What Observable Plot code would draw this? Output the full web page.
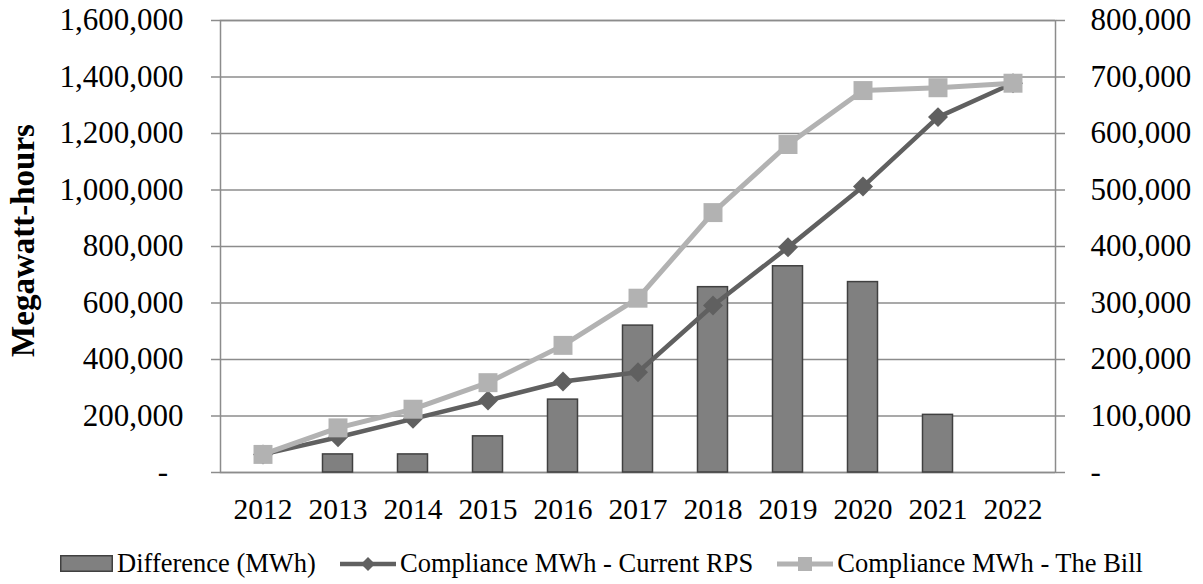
<!DOCTYPE html>
<html>
<head>
<meta charset="utf-8">
<script src="https://cdn.jsdelivr.net/npm/d3@7"></script>
<script src="https://cdn.jsdelivr.net/npm/@observablehq/plot@0.6"></script>
<style>
  body { margin: 0; background: #fff; font-family: "Liberation Serif", "Times New Roman", serif; }
  #legend { display: flex; justify-content: center; align-items: center; font-size: 26.5px; color: #000; margin-top: 14px; }
  #legend .item { display: flex; align-items: center; }
  #legend .item span { margin-left: 4px; }
  #legend .gap { width: 24px; }
</style>
</head>
<body>
<div id="chart"></div>
<div id="legend">
  <div class="item"><svg width="53" height="17"><rect x="0.75" y="0.75" width="51.5" height="15.5" fill="#808080" stroke="#404040" stroke-width="1.5"/></svg><span>Difference (MWh)</span></div>
  <div class="gap"></div>
  <div class="item"><svg width="56" height="20"><line x1="0" x2="56" y1="10" y2="10" stroke="#606060" stroke-width="4.5"/><path d="M28,3 L35,10 L28,17 L21,10 Z" fill="#606060"/></svg><span>Compliance MWh - Current RPS</span></div>
  <div class="gap"></div>
  <div class="item"><svg width="56" height="20"><line x1="0" x2="56" y1="10" y2="10" stroke="#b2b2b2" stroke-width="5"/><rect x="21" y="3" width="14" height="14" fill="#b2b2b2"/></svg><span>Compliance MWh - The Bill</span></div>
</div>
<script>
// ---- data ----
const years = ["2012","2013","2014","2015","2016","2017","2018","2019","2020","2021","2022"];
const difference = [0, 32000, 32000, 64000, 129000, 260000, 328000, 365000, 337000, 102000, 0];   // right axis
const currentRPS = [64000, 125000, 190000, 255000, 322000, 355000, 591000, 797000, 1012000, 1258000, 1378000];
const theBill   = [64000, 158000, 224000, 318000, 450000, 617000, 920000, 1161000, 1352000, 1362000, 1378000];
const leftTicks = [0, 200000, 400000, 600000, 800000, 1000000, 1200000, 1400000, 1600000];
const leftMax = 1600000, rightMax = 800000;

const k = leftMax / rightMax;
const rows = years.map((y, i) => ({year: y, diff: difference[i], cur: currentRPS[i], bill: theBill[i]}));
const fmt = d3.format(",");
const gridColor = "#8c8c8c";
const fsY = 31, fsX = 29.5;

const chart = Plot.plot({
  width: 1203,
  height: 534,
  marginTop: 20,
  marginBottom: 62,
  marginLeft: 220,
  marginRight: 148,
  style: {fontFamily: "'Liberation Serif', 'Times New Roman', serif", fontSize: fsY + "px", color: "#000", background: "#fff"},
  x: {type: "band", domain: years, padding: 0},
  y: {domain: [0, leftMax]},
  marks: [
    Plot.gridY(leftTicks, {stroke: gridColor, strokeOpacity: 1, strokeWidth: 1.5}),
    Plot.frame({stroke: gridColor, strokeWidth: 1.5}),
    Plot.axisY({ticks: leftTicks, tickSize: 9, tickPadding: 28, stroke: gridColor, strokeWidth: 1.5,
      tickFormat: d => d === 0 ? "-\u2007" : fmt(d), fontSize: fsY, label: null}),
    Plot.axisY({anchor: "right", ticks: leftTicks, tickSize: 9, tickPadding: 26, stroke: gridColor, strokeWidth: 1.5,
      tickFormat: d => d === 0 ? "-" : fmt(d / k), fontSize: fsY, label: null}),
    Plot.axisX({tickSize: 0, tickPadding: 26, fontSize: fsX, label: null}),
    Plot.barY(rows.filter(d => d.diff > 0), {x: "year", y: d => d.diff * k, fill: "#808080", stroke: "#404040", strokeWidth: 1.5, insetLeft: 22.5, insetRight: 22.5}),
    Plot.line(rows, {x: "year", y: "cur", stroke: "#606060", strokeWidth: 4.5}),
    Plot.dot(rows, {x: "year", y: "cur", symbol: "diamond2", r: 9, fill: "#606060", stroke: "none"}),
    Plot.line(rows, {x: "year", y: "bill", stroke: "#b2b2b2", strokeWidth: 5}),
    Plot.dot(rows, {x: "year", y: "bill", symbol: "square", r: 10.7, fill: "#b2b2b2", stroke: "none"}),
    Plot.text(["Megawatt-hours"], {frameAnchor: "left", textAnchor: "middle", rotate: -90, dx: -197, dy: -6, fontWeight: "bold", fontSize: 33, fill: "#000"})
  ]
});
document.getElementById("chart").appendChild(chart);
</script>
</body>
</html>
